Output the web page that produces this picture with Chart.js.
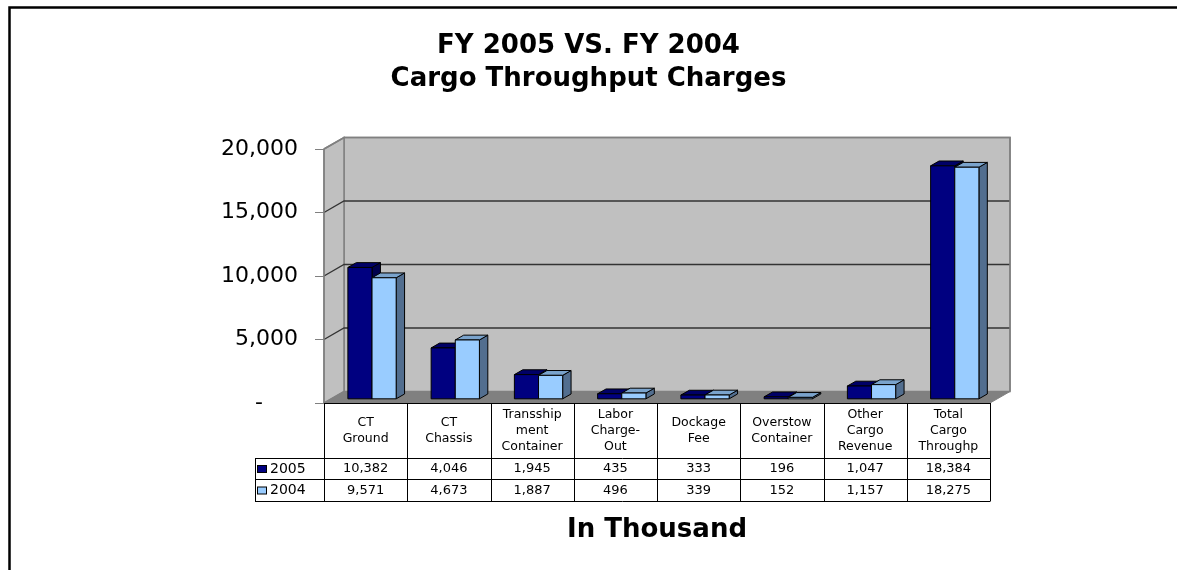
<!DOCTYPE html>
<html><head><meta charset="utf-8">
<script src="https://cdn.jsdelivr.net/npm/chart.js@4.4.1/dist/chart.umd.min.js"></script>
<style>html,body{margin:0;padding:0;background:#fff;overflow:hidden}canvas{display:block}</style>
</head><body>
<canvas id="c" width="1177" height="570"></canvas>
<script>
// ---- data ----
const categories = [["CT","Ground"],["CT","Chassis"],["Transship","ment","Container"],["Labor","Charge-","Out"],["Dockage","Fee"],["Overstow","Container"],["Other","Cargo","Revenue"],["Total","Cargo","Throughp"]];
const seriesNames = ["2005","2004"];
const values2005 = [10382,4046,1945,435,333,196,1047,18384];
const values2004 = [9571,4673,1887,496,339,152,1157,18275];
const yTickValues = [0,5000,10000,15000,20000];
const yTickLabels = ["-","5,000","10,000","15,000","20,000"];
const titleLines = ["FY 2005 VS. FY 2004","Cargo Throughput Charges"];
const axisTitle = "In Thousand";

// ---- style / geometry ----
const FONT = '"DejaVu Sans", "Liberation Sans", Arial, sans-serif';
const DEPTH = {dx: 20, dy: -11.5};
const BAR_FRONT = 0.32, BAR_BACK = 0.74;
const TABLE = {headerBottom: 458, row1Bottom: 479, row2Bottom: 501, legendLeft: 255, lineGap: 16};

function poly(ctx, pts, fill, stroke, lw) {
  ctx.beginPath();
  ctx.moveTo(pts[0][0], pts[0][1]);
  for (let i = 1; i < pts.length; i++) ctx.lineTo(pts[i][0], pts[i][1]);
  ctx.closePath();
  if (fill) { ctx.fillStyle = fill; ctx.fill(); }
  if (stroke) { ctx.strokeStyle = stroke; ctx.lineWidth = lw || 1; ctx.stroke(); }
}

const excel3d = {
  id: 'excel3d',
  beforeDraw(chart) {
    const ctx = chart.ctx;
    ctx.save();
    ctx.fillStyle = '#fff';
    ctx.fillRect(0, 0, chart.width, chart.height);
    ctx.strokeStyle = '#000';
    ctx.lineWidth = 2.5;
    ctx.beginPath();
    ctx.moveTo(9.5, chart.height + 5);
    ctx.lineTo(9.5, 7.6);
    ctx.lineTo(chart.width + 5, 7.6);
    ctx.stroke();
    ctx.restore();
  },
  beforeDatasetsDraw(chart) {
    const ctx = chart.ctx;
    const {left: L, right: R, top: T, bottom: B} = chart.chartArea;
    const {dx, dy} = DEPTH;
    const ys = chart.scales.y;
    ctx.save();
    ctx.lineJoin = 'miter';
    // walls
    poly(ctx, [[L + dx, T + dy], [R + dx, T + dy], [R + dx, B + dy], [L + dx, B + dy]], '#c0c0c0', '#808080', 1.5);
    poly(ctx, [[L, T], [L + dx, T + dy], [L + dx, B + dy], [L, B]], '#c0c0c0', '#808080', 1.5);
    poly(ctx, [[L, B], [R, B], [R + dx, B + dy], [L + dx, B + dy]], '#808080', '#808080', 1);
    // gridlines on back and side walls
    ctx.strokeStyle = '#333';
    ctx.lineWidth = 1.3;
    yTickValues.forEach(v => {
      if (v === 0 || v === ys.max) return;
      const y = ys.getPixelForValue(v);
      ctx.beginPath();
      ctx.moveTo(L, y);
      ctx.lineTo(L + dx, y + dy);
      ctx.lineTo(R + dx, y + dy);
      ctx.stroke();
    });
    // top edge of back wall
    ctx.strokeStyle = '#808080';
    ctx.lineWidth = 1.5;
    ctx.beginPath();
    ctx.moveTo(L, T); ctx.lineTo(L + dx, T + dy); ctx.lineTo(R + dx, T + dy); ctx.lineTo(R + dx, B + dy);
    ctx.stroke();
    ctx.beginPath(); ctx.moveTo(L, T); ctx.lineTo(L, B); ctx.stroke();

    // bars
    const fx = dx * BAR_FRONT, fy = dy * BAR_FRONT;
    const bx = dx * (BAR_BACK - BAR_FRONT), by = dy * (BAR_BACK - BAR_FRONT);
    const n = chart.data.labels.length;
    for (let i = 0; i < n; i++) {
      chart.data.datasets.forEach((ds, d) => {
        const el = chart.getDatasetMeta(d).data[i];
        const p = el.getProps(['x', 'y', 'base', 'width'], true);
        const x0 = p.x - p.width / 2 + fx, x1 = p.x + p.width / 2 + fx;
        const yt = p.y + fy, yb = p.base + fy;
        poly(ctx, [[x1, yt], [x1 + bx, yt + by], [x1 + bx, yb + by], [x1, yb]], ds.sideColor, '#000', 1);
        poly(ctx, [[x0, yt], [x0 + bx, yt + by], [x1 + bx, yt + by], [x1, yt]], ds.topColor, '#000', 1);
        poly(ctx, [[x0, yt], [x1, yt], [x1, yb], [x0, yb]], ds.backgroundColor, '#000', 1);
      });
    }
    ctx.restore();
    return false;
  },
  afterDraw(chart) {
    const ctx = chart.ctx;
    const xs = chart.scales.x;
    const {left: L, right: R, bottom: B} = chart.chartArea;
    const n = chart.data.labels.length;
    const cw = (R - L) / n;
    const rows = [B, TABLE.headerBottom, TABLE.row1Bottom, TABLE.row2Bottom];
    ctx.save();
    ctx.strokeStyle = '#000';
    ctx.lineWidth = 1;
    ctx.beginPath();
    ctx.moveTo(L, Math.round(B) + 0.5); ctx.lineTo(R, Math.round(B) + 0.5);
    for (let r = 1; r < rows.length; r++) {
      ctx.moveTo(TABLE.legendLeft, rows[r] + 0.5); ctx.lineTo(R, rows[r] + 0.5);
    }
    for (let i = 0; i <= n; i++) {
      const x = Math.round(L + i * cw) + 0.5;
      ctx.moveTo(x, B); ctx.lineTo(x, TABLE.row2Bottom + 0.5);
    }
    ctx.moveTo(TABLE.legendLeft + 0.5, TABLE.headerBottom); ctx.lineTo(TABLE.legendLeft + 0.5, TABLE.row2Bottom + 0.5);
    ctx.stroke();

    ctx.fillStyle = '#000';
    ctx.textAlign = 'center';
    ctx.textBaseline = 'middle';
    ctx.font = '12.5px ' + FONT;
    const hMid = (B + TABLE.headerBottom) / 2;
    chart.data.labels.forEach((lab, i) => {
      const cx = xs.getPixelForValue(i);
      const lines = Array.isArray(lab) ? lab : [lab];
      lines.forEach((t, j) => {
        ctx.fillText(t, cx, hMid + (j - (lines.length - 1) / 2) * TABLE.lineGap);
      });
    });
    ctx.font = '13px ' + FONT;
    chart.data.datasets.forEach((ds, d) => {
      const top = rows[d + 1], bot = rows[d + 2];
      const mid = (top + bot) / 2 + 0.5;
      ds.data.forEach((v, i) => {
        ctx.textAlign = 'center';
        ctx.fillText(v.toLocaleString('en-US'), xs.getPixelForValue(i), mid);
      });
      ctx.fillStyle = ds.backgroundColor;
      ctx.fillRect(257.5, mid - 3.5, 9, 7);
      ctx.strokeRect(257.5, mid - 3.5, 9, 7);
      ctx.fillStyle = '#000';
      ctx.textAlign = 'left';
      ctx.font = '14px ' + FONT;
      ctx.fillText(ds.label, 270, mid);
      ctx.font = '13px ' + FONT;
    });
    ctx.restore();
  }
};

new Chart(document.getElementById('c'), {
  type: 'bar',
  data: {
    labels: categories,
    datasets: [
      {label: seriesNames[0], data: values2005, backgroundColor: '#000080', topColor: '#000066', sideColor: '#00004d', borderColor: '#000', borderWidth: 1},
      {label: seriesNames[1], data: values2004, backgroundColor: '#99ccff', topColor: '#7aa3cc', sideColor: '#526e8f', borderColor: '#000', borderWidth: 1}
    ]
  },
  options: {
    responsive: false,
    animation: false,
    devicePixelRatio: 1,
    categoryPercentage: 0.58,
    barPercentage: 1,
    layout: {padding: {left: 187, right: 187, top: 0, bottom: 25}},
    plugins: {
      legend: {display: false},
      tooltip: {enabled: false},
      title: {
        display: true, text: titleLines, color: '#000',
        font: {family: FONT, size: 26, weight: 'bold', lineHeight: 33 / 26},
        padding: {top: 30, bottom: 53}
      }
    },
    scales: {
      x: {
        type: 'category', offset: true,
        grid: {display: false, drawTicks: false},
        border: {display: false},
        ticks: {display: false},
        title: {display: true, text: axisTitle, color: '#000',
          font: {family: FONT, size: 26, weight: 'bold', lineHeight: 30 / 26},
          padding: {top: 112, bottom: 0}}
      },
      y: {
        min: 0, max: 20000,
        afterBuildTicks: s => { s.ticks = yTickValues.map(v => ({value: v})); },
        afterFit: s => { s.width = 137; },
        grid: {drawOnChartArea: false, drawTicks: true, tickLength: 9, color: '#808080', lineWidth: 1},
        border: {display: true, color: '#808080'},
        ticks: {
          color: '#000', padding: 17, font: {family: FONT, size: 22},
          callback: (v) => { const k = yTickValues.indexOf(v); return k < 0 ? '' : (v === 0 ? yTickLabels[k] + '     ' : yTickLabels[k]); }
        }
      }
    }
  },
  plugins: [excel3d]
});
</script>
</body></html>
